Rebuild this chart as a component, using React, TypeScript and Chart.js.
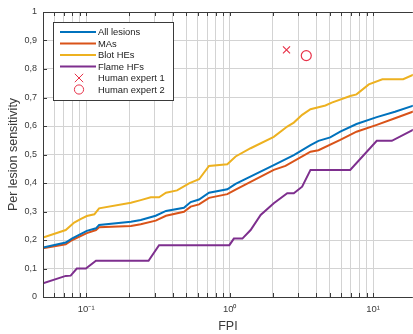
import React, { useEffect, useRef } from 'react';
import { Chart, registerables } from 'chart.js';

Chart.register(...registerables);

// ---- data ----
const fpiAll = [0.05, 0.072, 0.080, 0.101, 0.117, 0.123, 0.205, 0.24, 0.305, 0.36, 0.48, 0.535, 0.612, 0.718, 0.963, 1.10, 2.03, 2.80, 3.66, 4.16, 5.02, 5.90, 7.66, 10.6, 14.2, 20];
const sensAll = [0.174, 0.191, 0.206, 0.232, 0.241, 0.253, 0.264, 0.270, 0.285, 0.302, 0.313, 0.333, 0.342, 0.366, 0.378, 0.397, 0.463, 0.498, 0.533, 0.548, 0.560, 0.580, 0.607, 0.631, 0.650, 0.675];

const fpiMA = [0.05, 0.072, 0.080, 0.101, 0.117, 0.123, 0.205, 0.24, 0.305, 0.36, 0.48, 0.535, 0.612, 0.718, 0.963, 1.10, 2.03, 2.45, 3.66, 4.16, 5.90, 7.66, 10.6, 14.2, 20];
const sensMA = [0.171, 0.185, 0.200, 0.224, 0.235, 0.245, 0.249, 0.255, 0.268, 0.285, 0.299, 0.317, 0.325, 0.348, 0.361, 0.377, 0.446, 0.460, 0.510, 0.515, 0.551, 0.580, 0.604, 0.627, 0.655];

const fpiBlot = [0.05, 0.072, 0.0825, 0.092, 0.101, 0.114, 0.123, 0.205, 0.24, 0.282, 0.322, 0.36, 0.43, 0.521, 0.612, 0.718, 0.963, 1.10, 1.40, 2.03, 2.52, 2.80, 3.20, 3.66, 4.65, 5.15, 6.92, 7.66, 9.33, 11.6, 16.2, 20];
const sensBlot = [0.209, 0.235, 0.261, 0.274, 0.284, 0.290, 0.311, 0.331, 0.340, 0.350, 0.350, 0.366, 0.374, 0.399, 0.413, 0.460, 0.466, 0.493, 0.522, 0.562, 0.598, 0.612, 0.639, 0.659, 0.672, 0.682, 0.705, 0.711, 0.746, 0.764, 0.764, 0.785];

const fpiFlame = [0.05, 0.072, 0.078, 0.086, 0.0995, 0.117, 0.272, 0.322, 0.995, 1.07, 1.226, 1.40, 1.644, 2.03, 2.52, 2.80, 3.20, 3.66, 6.92, 10.6, 13.5, 20];
const sensFlame = [0.048, 0.074, 0.075, 0.100, 0.100, 0.127, 0.127, 0.182, 0.182, 0.205, 0.205, 0.235, 0.288, 0.329, 0.364, 0.364, 0.387, 0.446, 0.446, 0.548, 0.548, 0.592];

const fpiExpert1 = [2.49];
const sensExpert1 = [0.867];
const fpiExpert2 = [3.42];
const sensExpert2 = [0.847];

const seriesLabels = ['All lesions', 'MAs', 'Blot HEs', 'Flame HFs', 'Human expert 1', 'Human expert 2'];

const xGridTicks = [0.05, 0.06, 0.07, 0.08, 0.09, 0.1, 0.2, 0.3, 0.4, 0.5, 0.6, 0.7, 0.8, 0.9, 1, 2, 3, 4, 5, 6, 7, 8, 9, 10];
const xDecades = [0.1, 1, 10];
const xDecadeLabels = ['10\u207B\u00B9', '10\u2070', '10\u00B9'];
const yTickValues = [0, 0.1, 0.2, 0.3, 0.4, 0.5, 0.6, 0.7, 0.8, 0.9, 1];
const yTickLabels = ['0', '0,1', '0,2', '0,3', '0,4', '0,5', '0,6', '0,7', '0,8', '0,9', '1'];

const zip = (xs: number[], ys: number[]) => xs.map((x, i) => ({ x, y: ys[i] }));

const FONT = "'Liberation Sans', Arial, Helvetica, sans-serif";
const AXIS = '#3a3a3a';
const GRID = '#d3d3d3';

const framePlugin = {
  id: 'matlabFrame',
  afterDatasetsDraw(chart: any) {
    const { ctx, chartArea: a, scales } = chart;
    ctx.save();
    ctx.strokeStyle = AXIS;
    ctx.lineWidth = 1;
    ctx.beginPath();
    ctx.moveTo(Math.round(a.left) + 0.5, a.top);
    ctx.lineTo(Math.round(a.left) + 0.5, a.bottom);
    ctx.moveTo(a.left, Math.round(a.bottom) + 0.5);
    ctx.lineTo(a.right, Math.round(a.bottom) + 0.5);
    ctx.moveTo(a.left, Math.round(a.top) + 0.5);
    ctx.lineTo(a.right, Math.round(a.top) + 0.5);
    const tl = 4;
    xGridTicks.forEach((v) => {
      const px = Math.round(scales.x.getPixelForValue(v)) + 0.5;
      ctx.moveTo(px, a.bottom);
      ctx.lineTo(px, a.bottom - tl);
      ctx.moveTo(px, a.top);
      ctx.lineTo(px, a.top + tl);
    });
    yTickValues.forEach((v) => {
      const py = Math.round(scales.y.getPixelForValue(v)) + 0.5;
      ctx.moveTo(a.left, py);
      ctx.lineTo(a.left + tl, py);
    });
    ctx.stroke();
    ctx.restore();
  },
};

const legendPlugin = {
  id: 'insideLegend',
  afterDraw(chart: any) {
    const { ctx, chartArea: a } = chart;
    const x0 = Math.round(a.left) + 10;
    const y0 = Math.round(a.top) + 10;
    const w = 120;
    const h = 78;
    ctx.save();
    ctx.fillStyle = '#ffffff';
    ctx.fillRect(x0, y0, w, h);
    ctx.strokeStyle = AXIS;
    ctx.lineWidth = 1;
    ctx.strokeRect(x0 + 0.5, y0 + 0.5, w, h);
    ctx.font = `9.4px ${FONT}`;
    ctx.textBaseline = 'middle';
    ctx.textAlign = 'left';
    chart.data.datasets.forEach((ds: any, i: number) => {
      const cy = y0 + 10 + i * 11.5;
      if (i < 4) {
        ctx.strokeStyle = ds.borderColor;
        ctx.lineWidth = 2;
        ctx.beginPath();
        ctx.moveTo(x0 + 7, cy);
        ctx.lineTo(x0 + 43, cy);
        ctx.stroke();
      } else {
        ctx.strokeStyle = ds.borderColor;
        ctx.lineWidth = 1;
        ctx.beginPath();
        const cx = x0 + 26;
        if (ds.pointStyle === 'crossRot') {
          const r = 4.2;
          ctx.moveTo(cx - r, cy - r);
          ctx.lineTo(cx + r, cy + r);
          ctx.moveTo(cx - r, cy + r);
          ctx.lineTo(cx + r, cy - r);
        } else {
          ctx.arc(cx, cy, 4.6, 0, Math.PI * 2);
        }
        ctx.stroke();
      }
      ctx.fillStyle = '#1a1a1a';
      ctx.fillText(ds.label, x0 + 45, cy + 0.5);
    });
    ctx.restore();
  },
};

export default function App() {
  const canvasRef = useRef<HTMLCanvasElement | null>(null);

  useEffect(() => {
    const canvas = canvasRef.current;
    if (!canvas) return;
    const chart = new Chart(canvas, {
      type: 'line',
      data: {
        datasets: [
          { label: seriesLabels[0], data: zip(fpiAll, sensAll), borderColor: '#0072BD', backgroundColor: '#0072BD', borderWidth: 2, pointRadius: 0, tension: 0 },
          { label: seriesLabels[1], data: zip(fpiMA, sensMA), borderColor: '#D95319', backgroundColor: '#D95319', borderWidth: 2, pointRadius: 0, tension: 0 },
          { label: seriesLabels[2], data: zip(fpiBlot, sensBlot), borderColor: '#EDB120', backgroundColor: '#EDB120', borderWidth: 2, pointRadius: 0, tension: 0 },
          { label: seriesLabels[3], data: zip(fpiFlame, sensFlame), borderColor: '#7E2F8E', backgroundColor: '#7E2F8E', borderWidth: 2, pointRadius: 0, tension: 0 },
          { label: seriesLabels[4], data: zip(fpiExpert1, sensExpert1), showLine: false, borderColor: '#E8334A', backgroundColor: 'rgba(0,0,0,0)', pointStyle: 'crossRot', pointRadius: 5, pointBorderWidth: 1.2 },
          { label: seriesLabels[5], data: zip(fpiExpert2, sensExpert2), showLine: false, borderColor: '#E8334A', backgroundColor: 'rgba(0,0,0,0)', pointStyle: 'circle', pointRadius: 5, pointBorderWidth: 1.2 },
        ],
      },
      options: {
        animation: false,
        responsive: false,
        maintainAspectRatio: false,
        layout: { padding: { top: 12, right: 0, left: 0, bottom: 0 } },
        plugins: { legend: { display: false }, tooltip: { enabled: false } },
        scales: {
          x: {
            type: 'logarithmic',
            min: 0.05,
            max: 18.9,
            afterBuildTicks: (scale: any) => {
              scale.ticks = xGridTicks.map((v) => ({ value: v }));
            },
            afterFit: (scale: any) => {
              scale.height = 37;
            },
            grid: { color: GRID, lineWidth: 1, drawTicks: false },
            border: { display: false },
            ticks: {
              autoSkip: false,
              maxRotation: 0,
              padding: 7,
              color: AXIS,
              font: { family: FONT, size: 9.5 },
              callback: (v: any) => {
                const idx = xDecades.findIndex((d) => Math.abs(d - Number(v)) < 1e-9);
                return idx >= 0 ? xDecadeLabels[idx] : '';
              },
            },
            title: {
              display: true,
              text: 'FPI',
              color: AXIS,
              font: { family: FONT, size: 12.5 },
              padding: { top: 0, bottom: 0 },
            },
          },
          y: {
            min: 0,
            max: 1,
            afterBuildTicks: (scale: any) => {
              scale.ticks = yTickValues.map((v) => ({ value: v }));
            },
            afterFit: (scale: any) => {
              scale.width = 43;
            },
            grid: { color: GRID, lineWidth: 1, drawTicks: false },
            border: { display: false },
            ticks: {
              autoSkip: false,
              padding: 6,
              color: AXIS,
              font: { family: FONT, size: 9 },
              callback: (v: any) => {
                const idx = yTickValues.findIndex((d) => Math.abs(d - Number(v)) < 1e-9);
                return idx >= 0 ? yTickLabels[idx] : '';
              },
            },
            title: {
              display: true,
              text: 'Per lesion sensitivity',
              color: AXIS,
              font: { family: FONT, size: 12.5 },
              padding: { top: 6, bottom: 0 },
            },
          },
        },
      },
      plugins: [framePlugin, legendPlugin],
    } as any);
    return () => chart.destroy();
  }, []);

  return (
    <div style={{ position: 'fixed', left: 0, top: 0, width: 413, height: 334, overflow: 'hidden', background: '#fff' }}>
      <canvas ref={canvasRef} width={419} height={334} style={{ display: 'block' }} />
    </div>
  );
}
